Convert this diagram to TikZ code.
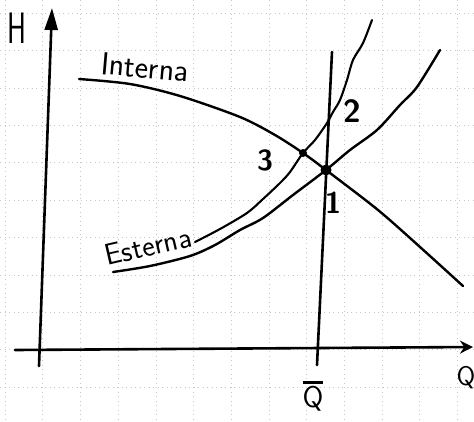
\documentclass[tikz,border=0pt]{standalone}
\usepackage{fontspec}
\usepackage{graphicx}
\usetikzlibrary{arrows.meta}
\begin{document}
\begin{tikzpicture}[x=1pt,y=-1pt,
  gridline/.style={black!22, line width=0.6pt, dash pattern=on 1pt off 3.5pt},
  axis/.style={line width=2.6pt, line cap=round},
  curve/.style={line width=2.4pt, line cap=round, line join=round},
  lbl/.style={inner sep=0pt, font=\sffamily\fontsize{30}{30}\selectfont},
  num/.style={inner sep=0pt, font=\sffamily\bfseries\fontsize{#1}{#1}\selectfont},
  dot/.style={circle, fill=black, inner sep=0pt, minimum size=#1}]
\useasboundingbox (0,0) rectangle (474,421);
% graph paper
\foreach \k in {0,...,10} \draw[gridline] (0,{13+37.4*\k}) -- (474,{13+37.4*\k});
\foreach \k in {0,...,12} \draw[gridline] ({5+37.7*\k},0) -- ({5+37.7*\k},421);
% axes
\coordinate (yb) at (39,366);
\coordinate (yt) at (52,8);
\draw[axis, -{Triangle[length=22pt,width=13pt]}] (yb) -- (yt);
\coordinate (xl) at (15,350);
\coordinate (xr) at (473,347);
\draw[axis, -{Stealth[length=13pt,width=13pt]}] (xl) -- (xr);
% vertical line at Qbar
\coordinate (qb) at (317,365);
\coordinate (qt) at (332,52);
\draw[axis] (qb) -- (qt);
% curves
\draw[curve] plot[smooth, tension=0.5] coordinates {(79,79) (130,84) (180,96) (240,117) (275,135) (303,153) (326,170) (378,210) (420,247) (463,286)};
\draw[curve] plot[smooth, tension=0.5] coordinates {(113,272) (150,266) (190,256) (215,245) (240,230) (263,218) (293,195) (326,170) (350,150) (377,130) (400,105) (417,87) (440,50)};
\draw[curve, line width=2.1pt] plot[smooth, tension=0.5] coordinates {(195,242) (220,229) (247,213) (263,199) (280,183) (290,172) (303,153) (315,140) (327,123) (333,112) (340,100) (347,80) (353,60) (363,43) (372,20)};
% points
\node[dot=11pt] (p1) at (326,170) {};
\node[dot=8pt] (p3) at (303,153) {};
% labels
\node[inner sep=0pt, font=\sffamily\fontsize{44}{44}\selectfont] (H) at (17,28) {\scalebox{0.65}[1]{H}};
\node[inner sep=0pt, font=\sffamily\fontsize{27}{27}\selectfont] (Q) at (466,378) {Q};
\node[inner sep=0pt, font=\sffamily\fontsize{30}{30}\selectfont] (Qbar) at (313,399) {Q};
\draw[line width=3pt] ([xshift=1pt,yshift=4pt]Qbar.north west) -- ([xshift=-1pt,yshift=4pt]Qbar.north east);
\node[lbl, font=\sffamily\fontsize{32}{32}\selectfont, rotate=-5] (int) at (145,67) {Interna};
\node[lbl, rotate=13] (est) at (148,246) {Esterna};
\node[num=29] (l3) at (265,160) {3};
\node[num=32] (l2) at (352,111) {2};
\node[num=30] (l1) at (333,203) {1};
\end{tikzpicture}
\end{document}
